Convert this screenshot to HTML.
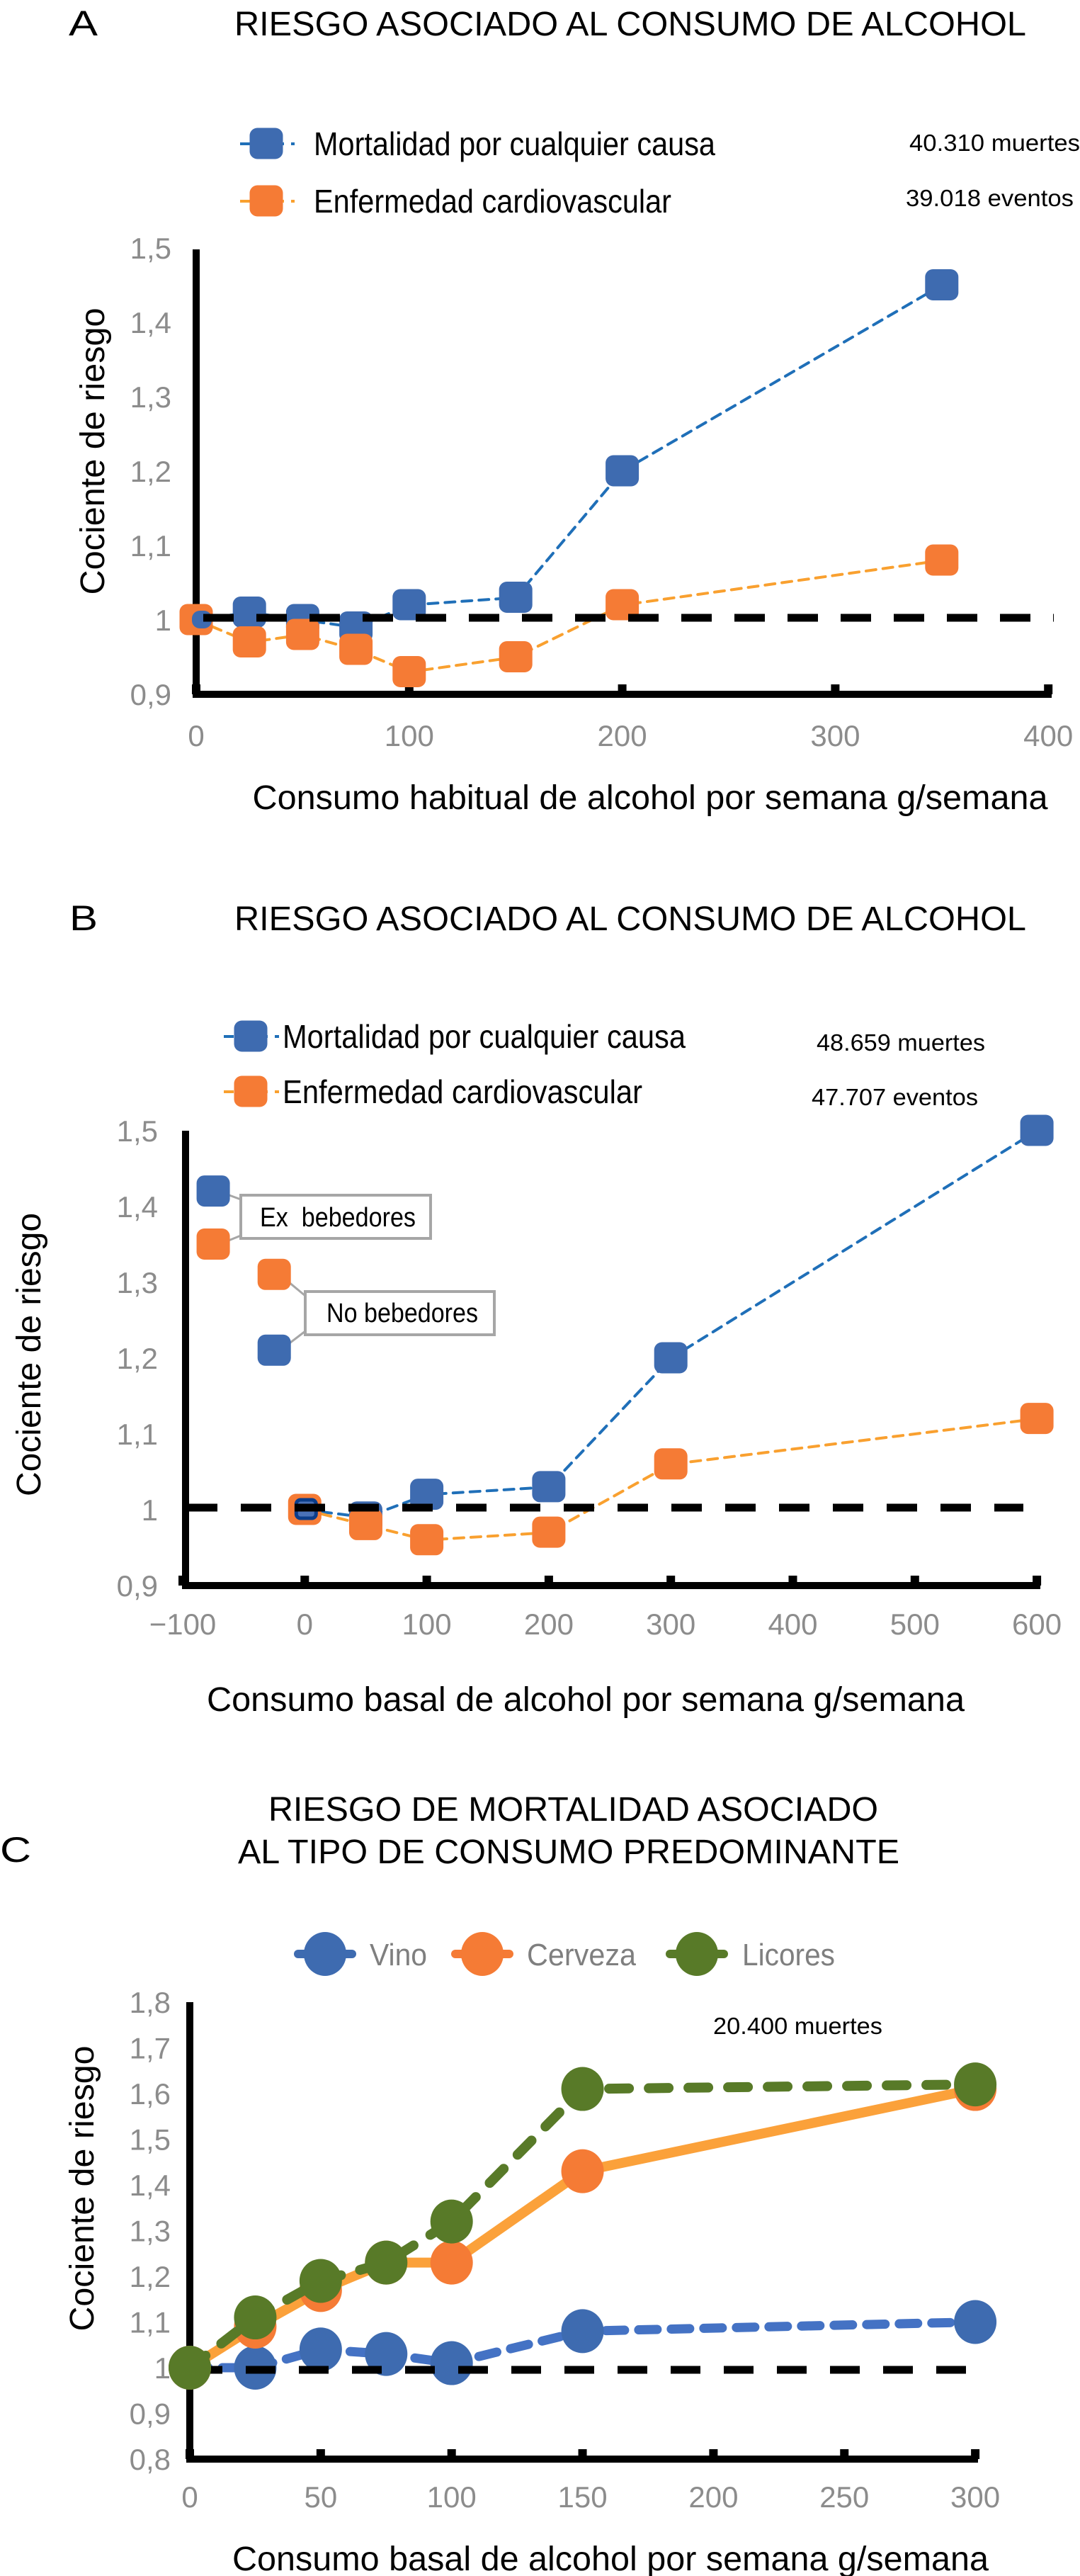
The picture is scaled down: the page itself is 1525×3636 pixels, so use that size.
<!DOCTYPE html>
<html><head><meta charset="utf-8"><style>
html,body{margin:0;padding:0;background:#fff;}
svg{display:block;}
text{font-family:"Liberation Sans",sans-serif;}
</style></head><body>
<svg id="fig" xmlns="http://www.w3.org/2000/svg" width="1525" height="3636" viewBox="0 0 1525 3636">
<rect x="0" y="0" width="1525" height="3636" fill="#fff"/>
<g>
<text x="97" y="50" font-size="50" textLength="41" lengthAdjust="spacingAndGlyphs">A</text>
<text x="331" y="50" font-size="48" textLength="1118" lengthAdjust="spacingAndGlyphs">RIESGO ASOCIADO AL CONSUMO DE ALCOHOL</text>
<text x="443" y="219" font-size="46" textLength="567" lengthAdjust="spacingAndGlyphs">Mortalidad por cualquier causa</text>
<text x="443" y="300" font-size="46" textLength="505" lengthAdjust="spacingAndGlyphs">Enfermedad cardiovascular</text>
<text x="1284" y="213" font-size="33" textLength="241" lengthAdjust="spacingAndGlyphs">40.310 muertes</text>
<text x="1279" y="291" font-size="33" textLength="237" lengthAdjust="spacingAndGlyphs">39.018 eventos</text>
<text transform="translate(147,637) rotate(-90)" text-anchor="middle" font-size="48" textLength="405" lengthAdjust="spacingAndGlyphs">Cociente de riesgo</text>
<text x="918" y="1142" text-anchor="middle" font-size="48" textLength="1123" lengthAdjust="spacingAndGlyphs">Consumo habitual de alcohol por semana g/semana</text>
</g>
<g>
<text x="98" y="1313" font-size="50" textLength="40" lengthAdjust="spacingAndGlyphs">B</text>
<text x="331" y="1313" font-size="48" textLength="1118" lengthAdjust="spacingAndGlyphs">RIESGO ASOCIADO AL CONSUMO DE ALCOHOL</text>
<text x="399" y="1479" font-size="46" textLength="569" lengthAdjust="spacingAndGlyphs">Mortalidad por cualquier causa</text>
<text x="399" y="1557" font-size="46" textLength="508" lengthAdjust="spacingAndGlyphs">Enfermedad cardiovascular</text>
<text x="1153" y="1483" font-size="33" textLength="238" lengthAdjust="spacingAndGlyphs">48.659 muertes</text>
<text x="1146" y="1560" font-size="33" textLength="235" lengthAdjust="spacingAndGlyphs">47.707 eventos</text>
<text transform="translate(57,1912) rotate(-90)" text-anchor="middle" font-size="48" textLength="400" lengthAdjust="spacingAndGlyphs">Cociente de riesgo</text>
<text x="827" y="2415" text-anchor="middle" font-size="48" textLength="1070" lengthAdjust="spacingAndGlyphs">Consumo basal de alcohol por semana g/semana</text>
<rect x="340" y="1687" width="268" height="61" fill="#fff" stroke="#a6a6a6" stroke-width="4"/>
<text x="367" y="1731" font-size="38" textLength="220" lengthAdjust="spacingAndGlyphs" xml:space="preserve">Ex  bebedores</text>
<rect x="431" y="1823" width="267" height="61" fill="#fff" stroke="#a6a6a6" stroke-width="4"/>
<text x="461" y="1866" font-size="38" textLength="214" lengthAdjust="spacingAndGlyphs">No bebedores</text>
</g>
<g>
<text x="0" y="2628" font-size="50" textLength="44" lengthAdjust="spacingAndGlyphs">C</text>
<text x="379" y="2570" font-size="48" textLength="861" lengthAdjust="spacingAndGlyphs">RIESGO DE MORTALIDAD ASOCIADO</text>
<text x="336" y="2630" font-size="48" textLength="934" lengthAdjust="spacingAndGlyphs">AL TIPO DE CONSUMO PREDOMINANTE</text>
<text x="522" y="2774" font-size="44" fill="#7f7f7f" textLength="81" lengthAdjust="spacingAndGlyphs">Vino</text>
<text x="744" y="2774" font-size="44" fill="#7f7f7f" textLength="154" lengthAdjust="spacingAndGlyphs">Cerveza</text>
<text x="1048" y="2774" font-size="44" fill="#7f7f7f" textLength="131" lengthAdjust="spacingAndGlyphs">Licores</text>
<text x="1007" y="2871" font-size="33" textLength="239" lengthAdjust="spacingAndGlyphs">20.400 muertes</text>
<text transform="translate(132,3089) rotate(-90)" text-anchor="middle" font-size="48" textLength="403" lengthAdjust="spacingAndGlyphs">Cociente de riesgo</text>
<text x="862" y="3628" text-anchor="middle" font-size="48" textLength="1068" lengthAdjust="spacingAndGlyphs">Consumo basal de alcohol por semana g/semana</text>
</g>
</svg>
<script>
// ---- Panel A data ----
const aX = [0, 25, 50, 75, 100, 150, 200, 350];
const aMort = [1.00, 1.01, 1.00, 0.99, 1.02, 1.03, 1.20, 1.45];
const aCard = [1.00, 0.97, 0.98, 0.96, 0.93, 0.95, 1.02, 1.08];
const aYTicks = [0.9, 1.0, 1.1, 1.2, 1.3, 1.4, 1.5];
const aYTickLabels = ["0,9", "1", "1,1", "1,2", "1,3", "1,4", "1,5"];
const aXTicks = [0, 100, 200, 300, 400];
const aXTickLabels = ["0", "100", "200", "300", "400"];
// ---- Panel B data ----
const bX = [0, 50, 100, 200, 300, 600];
const bMort = [1.00, 0.99, 1.02, 1.03, 1.20, 1.50];
const bCard = [1.00, 0.98, 0.96, 0.97, 1.06, 1.12];
const bExX = -75, bExMort = 1.42, bExCard = 1.35;
const bNoX = -25, bNoMort = 1.21, bNoCard = 1.31;
const bYTicks = [0.9, 1.0, 1.1, 1.2, 1.3, 1.4, 1.5];
const bYTickLabels = ["0,9", "1", "1,1", "1,2", "1,3", "1,4", "1,5"];
const bXTicks = [-100, 0, 100, 200, 300, 400, 500, 600];
const bXTickLabels = ["\u2212100", "0", "100", "200", "300", "400", "500", "600"];
// ---- Panel C data ----
const cX = [0, 25, 50, 75, 100, 150, 300];
const cVino = [1.00, 1.00, 1.04, 1.03, 1.01, 1.08, 1.10];
const cCerveza = [1.00, 1.09, 1.17, 1.23, 1.23, 1.43, 1.61];
const cLicores = [1.00, 1.11, 1.19, 1.23, 1.32, 1.61, 1.62];
const cYTicks = [0.8, 0.9, 1.0, 1.1, 1.2, 1.3, 1.4, 1.5, 1.6, 1.7, 1.8];
const cYTickLabels = ["0,8", "0,9", "1", "1,1", "1,2", "1,3", "1,4", "1,5", "1,6", "1,7", "1,8"];
const cXTicks = [0, 50, 100, 150, 200, 250, 300];
const cXTickLabels = ["0", "50", "100", "150", "200", "250", "300"];

const NS = "http://www.w3.org/2000/svg";
const svg = document.getElementById("fig");
function mk(tag, attrs, parent) {
  const e = document.createElementNS(NS, tag);
  for (const k in attrs) e.setAttribute(k, attrs[k]);
  (parent || svg).appendChild(e);
  return e;
}
const BLUE = "#3e6bb0", ORANGE = "#f57b35", GREEN = "#587a28";
const BLUEL = "#1f6fb8", ORANGEL = "#f9a02f";

const xA = v => 277 + v * 3.008;
const yA = v => 980 - (v - 0.9) * 1050;
const xB = v => 258 + (v + 100) * 1.723;
const yB = v => 2238 - (v - 0.9) * 1070;
const xC = v => 268 + v * 3.697;
const yC = v => 3471 - (v - 0.8) * 645;

function axes(xs, ys, yTicks, yLabels, xTicks, xLabels, x0, x1, yTop, yBot, labRight, xLabY, name) {
  let e;
  for (let i = 0; i < yTicks.length; i++) {
    e = mk("text", {x: labRight, y: ys(yTicks[i]) + 15, "text-anchor": "end", "font-size": 42, fill: "#8c8c8c"});
    e.textContent = yLabels[i];
    
    
  }
  for (let i = 0; i < xTicks.length; i++) {
    e = mk("text", {x: xs(xTicks[i]), y: xLabY, "text-anchor": "middle", "font-size": 42, fill: "#8c8c8c"});
    e.textContent = xLabels[i];
    
    
    e = mk("rect", {x: xs(xTicks[i]) - 6, y: yBot - 14, width: 12, height: 14, fill: "#000"});
    
    
  }
  e = mk("line", {x1: x0, y1: yTop, x2: x0, y2: yBot, stroke: "#000", "stroke-width": 10});
  
  
  e = mk("line", {x1: x0 - 5, y1: yBot, x2: x1, y2: yBot, stroke: "#000", "stroke-width": 10});
  
  
}
function pline(xsArr, vals, xs, ys, color, w, dash, name) {
  const pts = xsArr.map((x, i) => xs(x) + "," + ys(vals[i])).join(" ");
  const e = mk("polyline", {points: pts, fill: "none", stroke: color, "stroke-width": w, "stroke-dasharray": dash, "stroke-linecap": "round", "stroke-linejoin": "round"});
  
  
}
function sq(cx, cy, color, name, s) {
  s = s || 47;
  const e = mk("rect", {x: cx - s / 2, y: cy - s / 2 + 1, width: s, height: s - 3, rx: 11, fill: color});
  
  
  return e;
}
function circ(cx, cy, color, name, r) {
  const e = mk("ellipse", {cx: cx, cy: cy, rx: r || 30, ry: (r || 30) + 1, fill: color});
  
  
}
function refLine(x0, x1, y, name, dash) {
  const e = mk("line", {x1: x0, y1: y, x2: x1, y2: y, stroke: "#000", "stroke-width": 11, "stroke-dasharray": dash});
  
  
}

// ===== Panel A =====
axes(xA, yA, aYTicks, aYTickLabels, aXTicks, aXTickLabels, 277, 1485, 352, 980, 242, 1053, "panel-a");
let le;
le = mk("line", {x1: 339, y1: 203, x2: 416, y2: 203, stroke: BLUEL, "stroke-width": 4, "stroke-dasharray": "14 10"});


sq(376, 203, BLUE, "legend-a-mortalidad-marker");
le = mk("line", {x1: 339, y1: 284, x2: 416, y2: 284, stroke: ORANGEL, "stroke-width": 4, "stroke-dasharray": "14 10"});


sq(376, 284, ORANGE, "legend-a-cardio-marker");
pline(aX, aMort, xA, yA, BLUEL, 4, "14 10", "series-a-mortalidad-line");
pline(aX, aCard, xA, yA, ORANGEL, 4, "14 10", "series-a-cardio-line");
for (let i = 0; i < aX.length; i++) {
  if (i === 0) continue;
  sq(xA(aX[i]), yA(aMort[i]), BLUE, "point-a-mortalidad");
}
for (let i = 0; i < aX.length; i++) sq(xA(aX[i]), yA(aCard[i]), ORANGE, "point-a-cardio");
sq(xA(aX[0]) + 8, yA(aMort[0]), BLUE, "point-a-mortalidad", 28);
refLine(287, 1488, yA(1.0) - 3, "panel-a-reference-line", "43 32");

// ===== Panel B =====
axes(xB, yB, bYTicks, bYTickLabels, bXTicks, bXTickLabels, 262, 1469, 1596, 2238, 223, 2307, "panel-b");
le = mk("line", {x1: 316, y1: 1463, x2: 394, y2: 1463, stroke: BLUEL, "stroke-width": 4, "stroke-dasharray": "14 10"});


sq(354, 1463, BLUE, "legend-b-mortalidad-marker");
le = mk("line", {x1: 316, y1: 1541, x2: 394, y2: 1541, stroke: ORANGEL, "stroke-width": 4, "stroke-dasharray": "14 10"});


sq(354, 1541, ORANGE, "legend-b-cardio-marker");
const lead = [[xB(bExX) + 8, yB(bExMort), 340, 1693], [xB(bExX) + 8, yB(bExCard), 340, 1744], [xB(bNoX) + 8, yB(bNoCard), 431, 1829], [xB(bNoX) + 8, yB(bNoMort), 431, 1879]];
for (const l of lead) {
  le = mk("line", {x1: l[0], y1: l[1], x2: l[2], y2: l[3], stroke: "#a6a6a6", "stroke-width": 3});
  
  
}
sq(xB(bExX), yB(bExMort), BLUE, "point-b-ex-mortalidad");
sq(xB(bExX), yB(bExCard), ORANGE, "point-b-ex-cardio");
sq(xB(bNoX), yB(bNoCard), ORANGE, "point-b-no-cardio");
sq(xB(bNoX), yB(bNoMort), BLUE, "point-b-no-mortalidad");
pline(bX, bMort, xB, yB, BLUEL, 4, "14 10", "series-b-mortalidad-line");
pline(bX, bCard, xB, yB, ORANGEL, 4, "14 10", "series-b-cardio-line");
for (let i = 1; i < bX.length; i++) sq(xB(bX[i]), yB(bMort[i]), BLUE, "point-b-mortalidad");
for (let i = 0; i < bX.length; i++) sq(xB(bX[i]), yB(bCard[i]), ORANGE, "point-b-cardio");
le = mk("rect", {x: xB(bX[0]) - 12, y: yB(bMort[0]) - 14, width: 28, height: 26, rx: 6, fill: "#4a72b8", stroke: "#0b3d8a", "stroke-width": 5});


refLine(264, 1445, yB(1.0) - 3, "panel-b-reference-line", "43 33");

// ===== Panel C =====
axes(xC, yC, cYTicks, cYTickLabels, cXTicks, cXTickLabels, 268, 1381, 2826, 3471, 241, 3539, "panel-c");
const legC = [[459, BLUE, "vino"], [681, ORANGE, "cerveza"], [984, GREEN, "licores"]];
for (const g of legC) {
  le = mk("line", {x1: g[0] - 38, y1: 2758, x2: g[0] + 38, y2: 2758, stroke: g[1], "stroke-width": 12, "stroke-linecap": "round"});
  
  
  circ(g[0], 2758, g[1], 'legend-c-' + g[2] + '-marker');
}
pline(cX, cVino, xC, yC, "#4472c4", 13, "26 20", "series-c-vino-line");
for (let i = 0; i < cX.length; i++) circ(xC(cX[i]), yC(cVino[i]), BLUE, "point-c-vino");
refLine(272, 1372, yC(1.0) + 3, "panel-c-reference-line", "42 33");
pline(cX, cCerveza, xC, yC, "#fba13a", 14, "none", "series-c-cerveza-line");
for (let i = 0; i < cX.length; i++) circ(xC(cX[i]), yC(cCerveza[i]), ORANGE, "point-c-cerveza");
pline(cX, cLicores, xC, yC, GREEN, 14, "28 28", "series-c-licores-line");
for (let i = 0; i < cX.length; i++) circ(xC(cX[i]), yC(cLicores[i]), GREEN, "point-c-licores");
</script>
</body></html>
